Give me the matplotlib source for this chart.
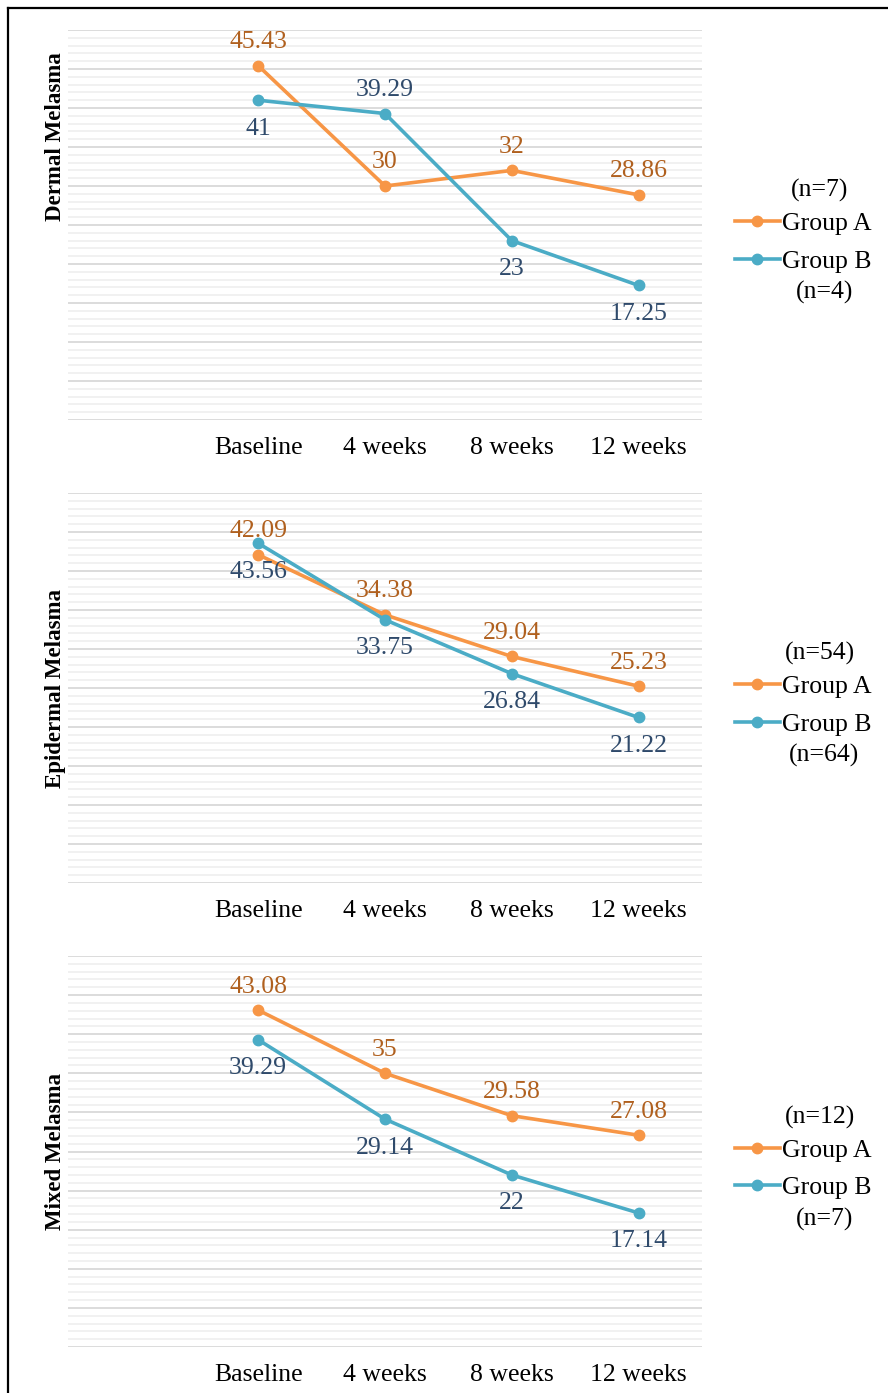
import matplotlib
matplotlib.use("Agg")
import matplotlib.pyplot as plt
from matplotlib.lines import Line2D
import numpy as np

plt.rcParams['font.family'] = ['Liberation Serif', 'DejaVu Serif']

timepoints = ["Baseline", "4 weeks", "8 weeks", "12 weeks"]
panel_titles = ["Dermal Melasma", "Epidermal Melasma", "Mixed Melasma"]

dermal_a = [45.43, 30, 32, 28.86]
dermal_b = [41, 39.29, 23, 17.25]
epidermal_a = [42.09, 34.38, 29.04, 25.23]
epidermal_b = [43.56, 33.75, 26.84, 21.22]
mixed_a = [43.08, 35, 29.58, 27.08]
mixed_b = [39.29, 29.14, 22, 17.14]

n_a = ["(n=7)", "(n=54)", "(n=12)"]
n_b = ["(n=4)", "(n=64)", "(n=7)"]

series_a = [dermal_a, epidermal_a, mixed_a]
series_b = [dermal_b, epidermal_b, mixed_b]

# which blue labels sit above their point instead of below
blue_above = [[False, True, False, False],
              [False, False, False, False],
              [False, False, False, False]]
ylabel_y = [0.726, 0.5, 0.5]

orange = "#F79646"
blue = "#4BACC6"
orange_txt = "#B0601E"
blue_txt = "#2F4A6B"

fig = plt.figure(figsize=(8.88, 13.93), dpi=100)

W, H = 888, 1393
left, right = 68, 702
panels_px = [(30, 420), (493, 883), (956, 1347)]

fs = 18.5
x = np.arange(len(timepoints))
up, down = 17, -20.5

for i, (top, bot) in enumerate(panels_px):
    ax = fig.add_axes([left / W, 1 - bot / H, (right - left) / W, (bot - top) / H])
    ax.set_xlim(-1.5, 3.5)
    ax.set_ylim(0, 50)
    ax.set_yticks(np.arange(0, 51, 5))
    ax.set_yticks(np.arange(0, 51, 1), minor=True)
    ax.grid(which='minor', axis='y', color='#f0f0f0', lw=1.3)
    ax.grid(which='major', axis='y', color='#d9d9d9', lw=1.3)
    ax.set_axisbelow(True)
    for s in ax.spines.values():
        s.set_visible(False)
    ax.set_xticks(x)
    ax.set_xticklabels(timepoints, fontsize=fs)
    ax.tick_params(axis='x', length=0, pad=12)
    ax.tick_params(axis='y', which='both', length=0, labelleft=False)

    a = series_a[i]
    b = series_b[i]
    ax.plot(x, a, color=orange, lw=2.6, marker='o', ms=7.5, label="Group A", zorder=3)
    ax.plot(x, b, color=blue, lw=2.6, marker='o', ms=7.5, label="Group B", zorder=3)

    for j in range(len(x)):
        ax.annotate(f"{a[j]:g}", (x[j], a[j]), xytext=(0, up), textcoords='offset points',
                    ha='center', va='center', fontsize=fs, color=orange_txt)
        off = up if blue_above[i][j] else down
        ax.annotate(f"{b[j]:g}", (x[j], b[j]), xytext=(0, off), textcoords='offset points',
                    ha='center', va='center', fontsize=fs, color=blue_txt)

    ax.set_ylabel(panel_titles[i], fontsize=16.5, fontweight='bold')
    ax.yaxis.set_label_coords(-0.003, ylabel_y[i])

    ax.legend(loc='center left', bbox_to_anchor=(1.052, 0.455), frameon=False,
              fontsize=fs, handlelength=1.75, handletextpad=0.08, labelspacing=0.55,
              borderpad=0, borderaxespad=0)
    ax.text(1.186, 0.588, n_a[i], transform=ax.transAxes, ha='center', va='center',
            fontsize=fs, clip_on=False)
    ax.text(1.193, 0.326, n_b[i], transform=ax.transAxes, ha='center', va='center',
            fontsize=fs, clip_on=False)

# border (left and top edges of the framed figure)
fig.add_artist(Line2D([8 / W, 8 / W], [0, 1 - 8 / H], color='black', lw=1.6))
fig.add_artist(Line2D([8 / W, 1], [1 - 8 / H, 1 - 8 / H], color='black', lw=1.6))

fig.savefig("out.png", dpi=100)
